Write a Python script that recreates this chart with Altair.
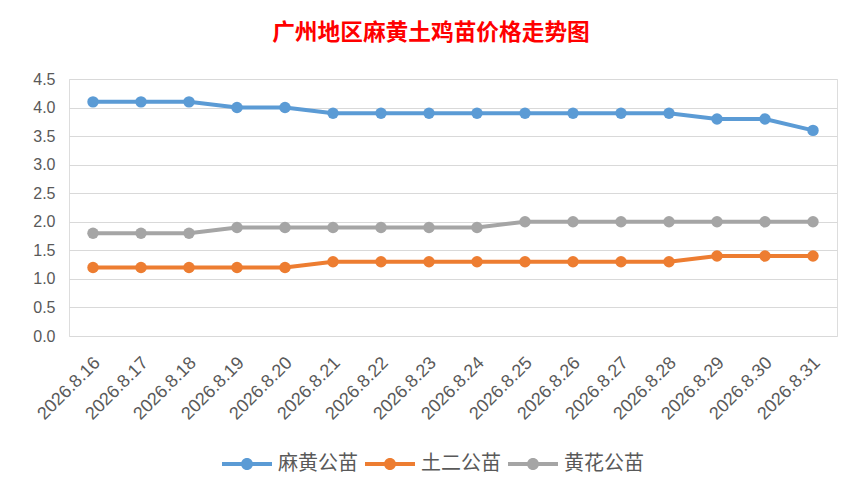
import altair as alt
import pandas as pd

dates = ["2026.8.16", "2026.8.17", "2026.8.18", "2026.8.19", "2026.8.20", "2026.8.21",
         "2026.8.22", "2026.8.23", "2026.8.24", "2026.8.25", "2026.8.26", "2026.8.27",
         "2026.8.28", "2026.8.29", "2026.8.30", "2026.8.31"]
mahuang = [4.1, 4.1, 4.1, 4.0, 4.0, 3.9, 3.9, 3.9, 3.9, 3.9, 3.9, 3.9, 3.9, 3.8, 3.8, 3.6]
tuer = [1.2, 1.2, 1.2, 1.2, 1.2, 1.3, 1.3, 1.3, 1.3, 1.3, 1.3, 1.3, 1.3, 1.4, 1.4, 1.4]
huanghua = [1.8, 1.8, 1.8, 1.9, 1.9, 1.9, 1.9, 1.9, 1.9, 2.0, 2.0, 2.0, 2.0, 2.0, 2.0, 2.0]
series = ["麻黄公苗", "土二公苗", "黄花公苗"]
colors = ["#5B9BD5", "#ED7D31", "#A5A5A5"]

rows = []
for name, vals in zip(series, [mahuang, tuer, huanghua]):
    for d, v in zip(dates, vals):
        rows.append({"date": d, "series": name, "value": v})
df = pd.DataFrame(rows)

legend_path = ("M-2.5,-0.2L-0.5,-0.2L-0.5,0.2L-2.5,0.2Z"
               "M0.5,-0.2L2.5,-0.2L2.5,0.2L0.5,0.2Z"
               "M0.6,0A0.6,0.6,0,1,1,-0.6,0A0.6,0.6,0,1,1,0.6,0Z")

x_enc = alt.X("date:N", sort=dates, title=None,
              scale=alt.Scale(paddingInner=0, paddingOuter=0),
              axis=alt.Axis(labelAngle=315, labelAlign="right", labelBaseline="middle",
                            labelFontSize=18, labelColor="#595959", labelFont="Liberation Sans",
                            ticks=False, domain=False, labelPadding=24, labelOffset=4,
                            grid=False))
y_enc = alt.Y("value:Q", title=None,
              scale=alt.Scale(domain=[0, 4.5], nice=False),
              axis=alt.Axis(values=[0, 0.5, 1, 1.5, 2, 2.5, 3, 3.5, 4, 4.5], format=".1f",
                            labelFontSize=16, labelColor="#595959", labelFont="Liberation Sans",
                            ticks=False, domain=False, labelPadding=14,
                            gridColor="#D9D9D9", gridWidth=1.2))
color_scale = alt.Scale(domain=series, range=colors)

lines = alt.Chart(df).mark_line(strokeWidth=4).encode(
    x=x_enc, y=y_enc,
    color=alt.Color("series:N", scale=color_scale, sort=series, legend=None),
)
points = alt.Chart(df).mark_circle(size=130, opacity=1).encode(
    x=x_enc, y=y_enc,
    color=alt.Color("series:N", scale=color_scale, sort=series,
                    legend=alt.Legend(title=None, orient="none", direction="horizontal",
                                      legendX=168, legendY=375, padding=0,
                                      symbolType=legend_path, symbolSize=400,
                                      symbolOpacity=1, symbolStrokeWidth=0,
                                      labelOffset=21, columnPadding=7,
                                      labelFontSize=20, labelColor="#595959",
                                      labelFont="Noto Sans CJK SC")),
)

chart = alt.layer(lines, points).resolve_legend(color="independent").properties(
    width=768, height=257,
    autosize=alt.AutoSizeParams(type="none"),
    padding={"left": 61, "top": 71, "right": 20, "bottom": 150},
    title=alt.TitleParams("广州地区麻黄土鸡苗价格走势图", fontSize=22.7, color="#FF0000",
                          font="Noto Sans CJK SC", fontWeight="bold",
                          anchor="middle", dx=-22, offset=26),
).configure_view(stroke=None).configure(background="white")

chart.save("out.html", embed_options={"renderer": "svg", "actions": False})
